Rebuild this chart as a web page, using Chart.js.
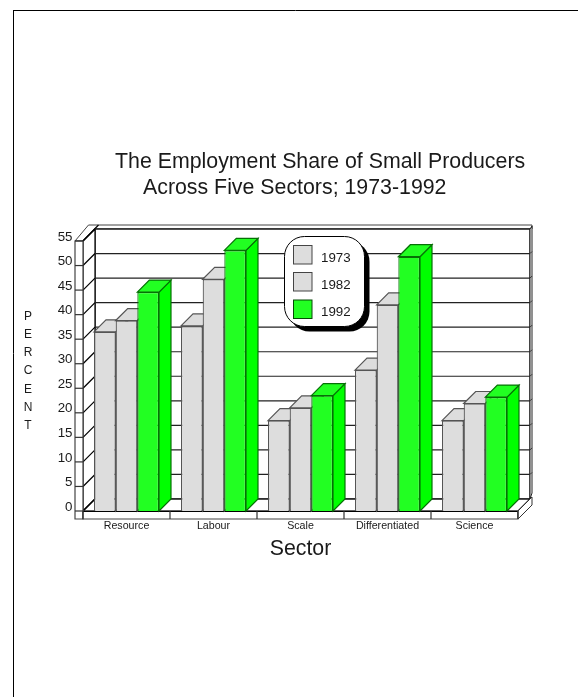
<!DOCTYPE html>
<html><head><meta charset="utf-8">
<style>html,body{margin:0;padding:0;background:#fff}canvas{display:block}</style>
<script src="https://cdn.jsdelivr.net/npm/chart.js@4"></script>
</head><body><canvas id="c" width="578" height="697"></canvas>
<script>
const categories = ['Resource','Labour','Scale','Differentiated','Science'];
const years = ['1973','1982','1992'];
const values1973 = [36.5,37.7,18.4,28.7,18.4];
const values1982 = [38.8,47.2,21.0,42.0,21.9];
const values1992 = [44.6,53.1,23.5,51.8,23.2];
const yTicksMax = 55, yTickStep = 5;
const titleLines = ['The Employment Share of Small Producers','Across Five Sectors; 1973-1992'];
const yTitle = 'PERCENT';
const xTitle = 'Sector';

const FONT = '"Liberation Sans", Arial, sans-serif';
const DX = 12, DY = 12;
const GRAY = '#dddddd', GRAYLINE = '#555555', GREEN='#22ff22', GREENSIDE='#00ff00', GREENLINE='#067006', INK='#000000', TEXT='#1a1a1a';

function poly(ctx, pts, fill, stroke, lw){
  ctx.beginPath(); pts.forEach((p,i)=> i?ctx.lineTo(p[0],p[1]):ctx.moveTo(p[0],p[1])); ctx.closePath();
  if(fill){ctx.fillStyle=fill;ctx.fill();}
  if(stroke){ctx.strokeStyle=stroke;ctx.lineWidth=lw||1;ctx.stroke();}
}
function seg(ctx,x1,y1,x2,y2,c,lw){ctx.beginPath();ctx.moveTo(x1,y1);ctx.lineTo(x2,y2);ctx.strokeStyle=c||INK;ctx.lineWidth=lw||1;ctx.stroke();}

const frame3d = {
  id:'frame3d',
  beforeDatasetsDraw(chart){
    const ctx=chart.ctx, a=chart.chartArea, ys=chart.scales.y;
    const L=a.left,R=a.right,T=a.top,B=a.bottom;
    const LW=1.2;
    ctx.save();
    // page rule
    seg(ctx,13.5,10,13.5,697,'#000',1); seg(ctx,13,10.5,578,10.5,'#000',1);
    // top slab
    poly(ctx,[[L-8,T],[L+5.5,T-16],[R+DX+2,T-16],[R+DX+2,T-12],[L+DX,T-DY],[L,T]],'#fff','#444',1);
    seg(ctx,L,T,L+15.5,T-16,INK,LW);
    // back wall
    poly(ctx,[[L+DX,T-DY],[R+DX,T-DY],[R+DX,B-DY],[L+DX,B-DY]],'#fff',INK,LW);
    // right sliver
    poly(ctx,[[R+DX,T-DY],[R+DX+2,T-15],[R+DX+2,B-DY-6],[R+DX,B-DY]],'#fff','#222',1);
    // left wall
    poly(ctx,[[L,T],[L+DX,T-DY],[L+DX,B-DY],[L,B]],'#fff',INK,LW);
    // floor
    poly(ctx,[[L,B],[L+DX,B-DY],[R+DX,B-DY],[R,B]],'#fff',INK,LW);
    // grid
    ys.ticks.forEach(t=>{
      const y=ys.getPixelForValue(t.value);
      seg(ctx,L,y,L+DX,y-DY,INK,LW);
      seg(ctx,L+DX,y-DY,R+DX,y-DY,'#222',LW);
      seg(ctx,R+DX,y-DY,R+DX+2,y-DY-2,'#333',1);
    });
    // left strip
    poly(ctx,[[L-8,T],[L,T],[L,B+8],[L-8,B+8]],'#fff','#444',LW);
    ys.ticks.forEach(t=>{const y=ys.getPixelForValue(t.value);seg(ctx,L-8,y,L,y,'#333',LW);});
    // front floor strip
    poly(ctx,[[L,B],[R,B],[R,B+8],[L,B+8]],'#fff','#444',LW);
    seg(ctx,L,B+.5,R,B+.5,INK,LW);
    poly(ctx,[[R,B],[R+DX,B-DY],[R+DX+2,B-DY-2],[R+DX+2,B-DY+6],[R,B+8]],'#fff','#333',1);
    const step=(R-L)/categories.length;
    for(let i=0;i<=categories.length;i++){const x=L+i*step;seg(ctx,x,B,x,B+8,'#333',LW);}
    // side and top faces of every bar, painted before the front faces
    chart.getSortedVisibleDatasetMetas().forEach(meta=>{
      const green=meta.index===2;
      meta.data.forEach(b=>{
        const hw=b.width/2, x0=b.x-hw, x1=b.x+hw, y=b.y, bot=b.base;
        poly(ctx,[[x1,y],[x1+DX,y-DY],[x1+DX,bot-DY],[x1,bot]],green?GREENSIDE:GRAY,green?GREENLINE:GRAYLINE,LW);
        poly(ctx,[[x0,y],[x0+DX,y-DY],[x1+DX,y-DY],[x1,y]],green?GREEN:GRAY,green?GREENLINE:GRAYLINE,LW);
      });
    });
    ctx.restore();
  },
  afterDraw(chart){
    const ctx=chart.ctx, ys=chart.scales.y;
    ctx.save();
    ctx.fillStyle=TEXT;
    // y tick labels
    ctx.font='13.33px '+FONT; ctx.textAlign='right'; ctx.textBaseline='middle';
    ys.ticks.forEach(t=>ctx.fillText(String(t.value),72.5,ys.getPixelForValue(t.value)-4));
    // titles
    ctx.textBaseline='alphabetic'; ctx.textAlign='left';
    ctx.font='21.33px '+FONT;
    ctx.fillText(titleLines[0],115,168);
    ctx.fillText(titleLines[1],143,194);
    // y title
    ctx.font='12px '+FONT; ctx.textAlign='center'; ctx.textBaseline='middle';
    [...yTitle].forEach((ch,i)=>ctx.fillText(ch,28,316.5+i*18.2));
    // legend
    const lx=284.5,ly=236.5,lw=80,lh=90,r=20;
    ctx.beginPath();ctx.roundRect(lx+5,ly+5,lw,lh,r);ctx.fillStyle='#000';ctx.fill();
    ctx.beginPath();ctx.roundRect(lx,ly,lw,lh,r);ctx.fillStyle='#fff';ctx.fill();ctx.strokeStyle='#000';ctx.lineWidth=1;ctx.stroke();
    const sy=[245.5,272.5,300];
    years.forEach((yr,i)=>{
      ctx.fillStyle=i===2?GREEN:GRAY; ctx.strokeStyle=i===2?'#044a04':'#444';
      ctx.fillRect(293.5,sy[i],18.5,18.5); ctx.strokeRect(293.5,sy[i],18.5,18.5);
      ctx.fillStyle=TEXT;ctx.font='13.33px '+FONT;ctx.textAlign='left';ctx.textBaseline='middle';
      ctx.fillText(yr,321,sy[i]+12.5);
    });
    ctx.restore();
  }
};

new Chart(document.getElementById('c'),{
  type:'bar',
  data:{labels:categories,datasets:[
    {label:years[0],data:values1973,backgroundColor:GRAY,borderColor:GRAYLINE,borderWidth:1.2},
    {label:years[1],data:values1982,backgroundColor:GRAY,borderColor:GRAYLINE,borderWidth:1.2},
    {label:years[2],data:values1992,backgroundColor:GREEN,borderColor:GREENLINE,borderWidth:1.2}
  ]},
  options:{
    responsive:false,animation:false,
    layout:{padding:{left:0,top:241,right:60,bottom:135}},
    plugins:{legend:{display:false},title:{display:false},tooltip:{enabled:false}},
    datasets:{bar:{categoryPercentage:0.747,barPercentage:1}},
    scales:{
      x:{grid:{display:false},border:{display:false},
         ticks:{font:{family:FONT,size:10.67},color:TEXT,padding:1,maxRotation:0,autoSkip:false},
         title:{display:true,text:xTitle,font:{family:FONT,size:21.33},color:TEXT,padding:{top:2,bottom:0}},
         afterFit(s){s.height=51;}},
      y:{min:0,max:yTicksMax,grid:{display:false},border:{display:false},
         ticks:{stepSize:yTickStep,color:'rgba(0,0,0,0)',font:{family:FONT,size:13.33}},
         afterFit(s){s.width=83;}}
    }
  },
  plugins:[frame3d]
});
</script></body></html>
